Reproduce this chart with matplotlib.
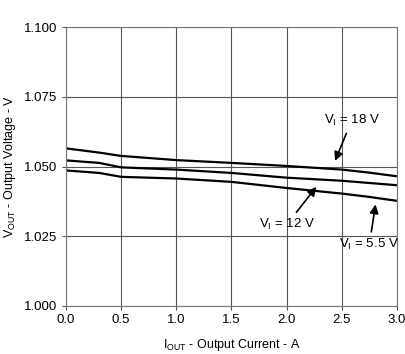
import matplotlib.pyplot as plt

plt.rcParams['font.family'] = ['Liberation Sans', 'DejaVu Sans']
plt.rcParams['mathtext.fontset'] = 'custom'
plt.rcParams['mathtext.rm'] = 'Liberation Sans'

# Output current (A)
i_out = [0.0, 0.3, 0.5, 1.0, 1.5, 2.0, 2.5, 2.75, 3.0]

# Output voltage (V) for each input voltage
v_18 = [1.0565, 1.0550, 1.0538, 1.0523, 1.0513, 1.0502, 1.0489, 1.0478, 1.0465]
v_12 = [1.0522, 1.0513, 1.0497, 1.0489, 1.0477, 1.0460, 1.0449, 1.0441, 1.0433]
v_55 = [1.0486, 1.0477, 1.0463, 1.0457, 1.0445, 1.0423, 1.0403, 1.0391, 1.0377]

x_ticks = [0.0, 0.5, 1.0, 1.5, 2.0, 2.5, 3.0]
y_ticks = [1.000, 1.025, 1.050, 1.075, 1.100]

fig = plt.figure(figsize=(4.05, 3.54), dpi=100)
ax = fig.add_axes([0.163, 0.1356, 0.817, 0.788])

for v in (v_18, v_12, v_55):
    ax.plot(i_out, v, color="black", linewidth=1.6, solid_capstyle="butt")

ax.set_xlim(0, 3.0)
ax.set_ylim(1.000, 1.100)
ax.set_xticks(x_ticks)
ax.set_yticks(y_ticks)
ax.set_xticklabels([f"{t:.1f}" for t in x_ticks])
ax.set_yticklabels([f"{t:.3f}" for t in y_ticks])
ax.grid(True, color="#555555", linewidth=0.8)
for s in ax.spines.values():
    s.set_color("#777777")
    s.set_linewidth(0.8)
ax.tick_params(axis="both", direction="out", length=3, width=0.8, color="#555555",
               labelsize=9.5, pad=3)

ax.set_xlabel(r"I$_{\mathregular{OUT}}$ - Output Current - A", fontsize=9)
ax.set_ylabel(r"V$_{\mathregular{OUT}}$ - Output Voltage - V", fontsize=9)
ax.xaxis.set_label_coords(0.5, -0.11)
ax.yaxis.set_label_coords(-0.145, 0.5)

arrow = dict(arrowstyle="-|>", color="black", lw=1.2, mutation_scale=13)
ax.annotate(r"V$_{\mathregular{I}}$ = 18 V", xy=(2.43, 1.0511), xytext=(2.59, 1.0665),
            ha="center", va="center", fontsize=9.5, arrowprops=arrow)
ax.annotate(r"V$_{\mathregular{I}}$ = 12 V", xy=(2.285, 1.0435), xytext=(2.0, 1.0291),
            ha="center", va="center", fontsize=9.5, arrowprops=arrow)
ax.annotate(r"V$_{\mathregular{I}}$ = 5.5 V", xy=(2.81, 1.0374), xytext=(2.75, 1.0219),
            ha="center", va="center", fontsize=9.5, arrowprops=arrow)

fig.savefig("out.png", dpi=100)
